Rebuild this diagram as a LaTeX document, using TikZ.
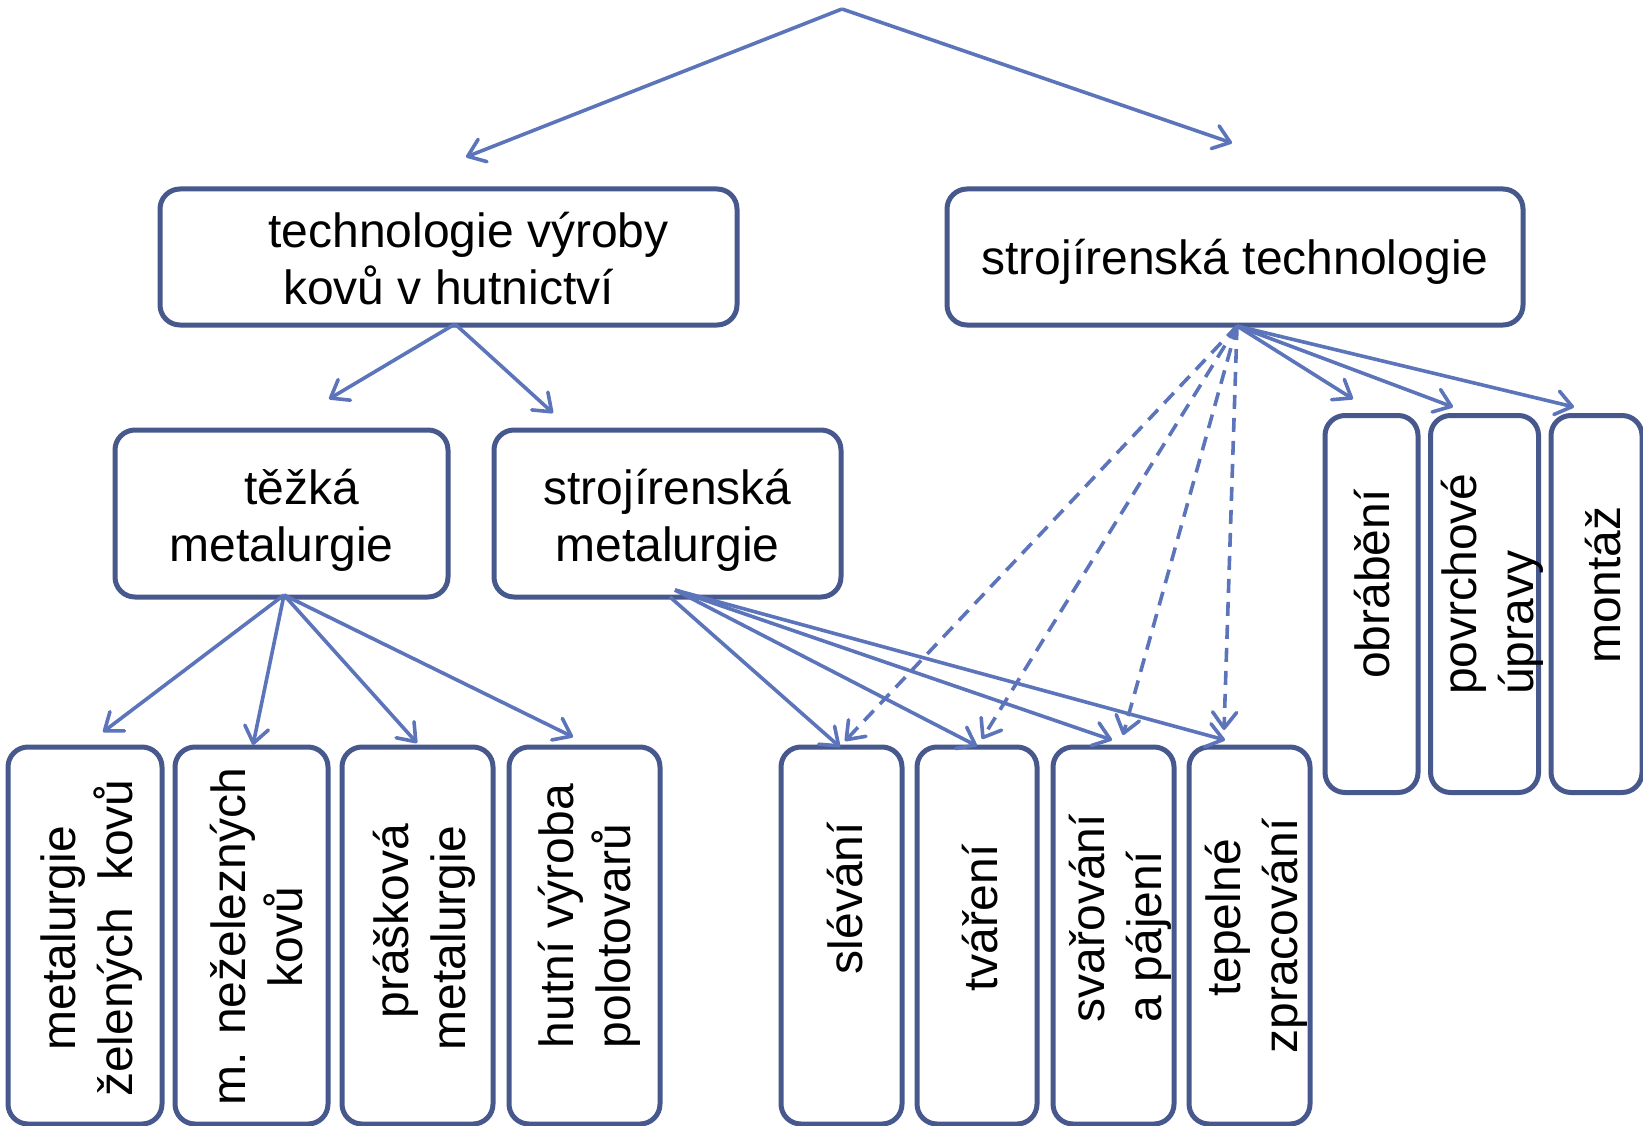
\documentclass[tikz,border=0pt]{standalone}
\usepackage{fontspec}
\setmainfont{Liberation Sans}
\usetikzlibrary{arrows.meta}
\definecolor{boxc}{RGB}{71,88,140}
\definecolor{arrc}{RGB}{92,116,186}
\begin{document}
\begin{tikzpicture}[x=1pt,y=-1pt,
  box/.style={draw=boxc, line width=5pt, rounded corners=20pt, fill=white, inner sep=0pt},
  hbox/.style={box, minimum width=#1, minimum height=136pt},
  mbox/.style={box, minimum width=#1, minimum height=167pt},
  vbox/.style={box, minimum width=#1, minimum height=377pt},
  htext/.style={inner sep=0pt, font=\fontsize{48}{57}\selectfont, align=center},
  vtext/.style={rotate=90, inner sep=0pt, font=\fontsize{48}{57}\selectfont, align=center},
  vltext/.style={vtext, align=left},
  arr/.style={draw=arrc, line width=3.6pt, -{Straight Barb[length=16pt,width=24pt,round]}},
  darr/.style={arr, dash pattern=on 14pt off 9pt}]
\useasboundingbox (0,0) rectangle (1643,1126);

% boxes
\node[hbox=577pt] (tech) at (448.5,257) {};
\node[hbox=576pt] (sjt) at (1235,257) {};
\node[mbox=333pt] (tm) at (281.5,513.5) {};
\node[mbox=347pt] (sm) at (667.5,513.5) {};

\node[vbox=154pt] (b1) at (85,935.5) {};
\node[vbox=153pt] (b2) at (251.5,935.5) {};
\node[vbox=151pt] (b3) at (417.5,935.5) {};
\node[vbox=151pt] (b4) at (584.5,935.5) {};
\node[vbox=121pt] (b5) at (841.5,935.5) {};
\node[vbox=120pt] (b6) at (977,935.5) {};
\node[vbox=121pt] (b7) at (1113.5,935.5) {};
\node[vbox=121pt] (b8) at (1249.5,935.5) {};
\node[vbox=93pt] (b9) at (1371.5,604) {};
\node[vbox=108pt] (b10) at (1484.5,604) {};
\node[vbox=91pt] (b11) at (1596.5,604) {};

% horizontal texts
\node[htext] (ttech) at (448.5,259) {\hspace*{40pt}technologie výroby\\kovů v hutnictví};
\node[htext] (tsjt) at (1235,262) {strojírenská technologie};
\node[htext] (ttm) at (281.5,520) {\hspace*{40pt}těžká\\metalurgie};
\node[htext] (tsm) at (667.5,520) {strojírenská\\metalurgie};

% vertical texts
\node[vtext] (t1) at (92,938) {metalurgie\\želených\ \ kovů};
\node[vtext] (t2) at (257,937) {m. neželezných\\kovů};
\node[vtext] (t3) at (424,938) {\hspace*{34pt}prášková\\metalurgie};
\node[vltext] (t4) at (589,916) {hutní výroba\\polotovarů};
\node[vtext] (t5) at (845,898) {slévání};
\node[vtext] (t6) at (980,918) {tváření};
\node[vltext] (t7) at (1120,918) {svařování\\a pájení};
\node[vtext] (t8) at (1256,936) {\hspace*{36pt}tepelné\\zpracování};
\node[vtext] (t9) at (1372,584) {obrábění};
\node[vltext] (t10) at (1492,584) {povrchové\\úpravy};
\node[vtext] (t11) at (1603,585) {montáž};

% connector ends
\coordinate (top) at (842,9);
\coordinate (pl) at (466,157);
\coordinate (pr) at (1232,143);
\coordinate (techo) at (455,324);
\coordinate (p1) at (329,399);
\coordinate (p2) at (553,413);
\coordinate (tmo) at (284,595);
\coordinate (q1) at (103,732);
\coordinate (q2) at (253,745);
\coordinate (q3) at (417,743);
\coordinate (q4) at (573,737);
\coordinate (smo1) at (670,597);
\coordinate (smo2) at (675,590);
\coordinate (r1) at (840,747);
\coordinate (r2) at (977,746);
\coordinate (r3) at (1112,740);
\coordinate (r4) at (1225,740);
\coordinate (sjo) at (1237,326);
\coordinate (d1) at (845,741);
\coordinate (d2) at (982,739);
\coordinate (d3) at (1123,735);
\coordinate (d4) at (1224,730);
\coordinate (s1) at (1353,399);
\coordinate (s2) at (1453,407);
\coordinate (s3) at (1574,407);

% connectors
\draw[arr] (top) -- (pl);
\draw[arr] (top) -- (pr);
\draw[arr] (techo) -- (p1);
\draw[arr] (techo) -- (p2);
\draw[arr] (tmo) -- (q1);
\draw[arr] (tmo) -- (q2);
\draw[arr] (tmo) -- (q3);
\draw[arr] (tmo) -- (q4);
\draw[arr] (smo1) -- (r1);
\draw[arr] (smo2) -- (r2);
\draw[arr] (smo2) -- (r3);
\draw[arr] (smo2) -- (r4);
\draw[darr] (sjo) -- (d1);
\draw[darr] (sjo) -- (d2);
\draw[darr] (sjo) -- (d3);
\draw[darr] (sjo) -- (d4);
\draw[arr] (sjo) -- (s1);
\draw[arr] (sjo) -- (s2);
\draw[arr] (sjo) -- (s3);
\end{tikzpicture}
\end{document}
